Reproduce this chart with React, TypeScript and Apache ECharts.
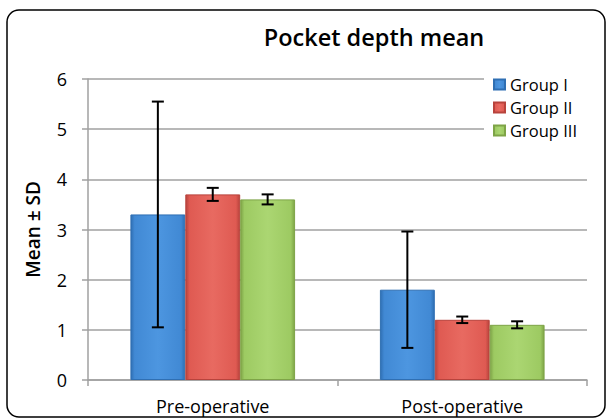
import React, { useEffect, useRef } from "react";
import * as echarts from "echarts";

const categories = ["Pre-operative", "Post-operative"];
const groups = ["Group I", "Group II", "Group III"];
const groupI = [3.3, 1.8];
const groupII = [3.7, 1.2];
const groupIII = [3.6, 1.1];
const sdI = [2.25, 1.16];
const sdII = [0.13, 0.065];
const sdIII = [0.1, 0.07];
const yTicks = [0, 1, 2, 3, 4, 5, 6];

const palette = [
  { dark: "#2f6fb3", mid: "#4189d4", light: "#4d96e0" },
  { dark: "#b8433c", mid: "#df5a52", light: "#e86a61" },
  { dark: "#7ea447", mid: "#9dca62", light: "#abd672" },
];

function grad(p: { dark: string; mid: string; light: string }) {
  return new echarts.graphic.LinearGradient(1, 0, 0, 0, [
    { offset: 0, color: p.dark },
    { offset: 0.07, color: p.mid },
    { offset: 0.5, color: p.light },
    { offset: 0.93, color: p.mid },
    { offset: 1, color: p.dark },
  ]);
}

export default function App() {
  const ref = useRef<HTMLDivElement>(null);
  useEffect(() => {
    if (!ref.current) return;
    const chart = echarts.init(ref.current, null, { renderer: "svg" });
    const values = [groupI, groupII, groupIII];
    const sds = [sdI, sdII, sdIII];
    const font = "'Open Sans', sans-serif";
    const barSeries = groups.map((g, i) => ({
      type: "bar",
      name: g,
      data: values[i],
      barGap: "0%",
      barCategoryGap: "34%",
      itemStyle: {
        color: grad(palette[i]),
        borderColor: palette[i].dark,
        borderWidth: 1,
      },
      z: 2,
    }));
    const errData: number[][] = [];
    for (let gi = 0; gi < 3; gi++) {
      for (let ci = 0; ci < categories.length; ci++) {
        const v = values[gi][ci];
        const s = sds[gi][ci];
        errData.push([ci, gi, v - s, v + s]);
      }
    }
    const errSeries = {
      type: "custom",
      name: "err",
      data: errData,
      z: 5,
      renderItem: (params: any, api: any) => {
        const ci = api.value(0);
        const gi = api.value(1);
        const lo = api.coord([ci, api.value(2)]);
        const hi = api.coord([ci, api.value(3)]);
        const catW = api.size([1, 0])[0];
        const bw = (catW * (1 - 0.34)) / 3;
        const x = lo[0] + (gi - 1) * bw;
        const cap = 6;
        const st = { stroke: "#000", lineWidth: 2 };
        return {
          type: "group",
          children: [
            { type: "line", shape: { x1: x, y1: lo[1], x2: x, y2: hi[1] }, style: st },
            { type: "line", shape: { x1: x - cap, y1: lo[1], x2: x + cap, y2: lo[1] }, style: st },
            { type: "line", shape: { x1: x - cap, y1: hi[1], x2: x + cap, y2: hi[1] }, style: st },
          ],
        };
      },
    };
    chart.setOption({
      animation: false,
      backgroundColor: "#fff",
      textStyle: { fontFamily: font },
      title: {
        text: "Pocket depth mean",
        left: 369,
        top: 20,
        textAlign: "center",
        textStyle: { fontFamily: font, fontSize: 23.5, fontWeight: 600, color: "#000" },
      },
      legend: {
        data: groups,
        orient: "vertical",
        left: 484,
        top: 70,
        padding: [6, 24, 6, 9],
        backgroundColor: "#fff",
        itemWidth: 11,
        itemHeight: 10,
        itemGap: 6,
        icon: "rect",
        textStyle: { fontFamily: font, fontSize: 16.5, color: "#000", lineHeight: 16.5 },
        z: 10,
      },
      grid: { left: 88, right: 20, top: 79, bottom: 39, containLabel: false },
      xAxis: {
        type: "category",
        data: categories,
        axisLine: { lineStyle: { color: "#a0a0a0", width: 1.5 } },
        axisTick: { show: true, length: 6, lineStyle: { color: "#a0a0a0", width: 1.5 } },
        axisLabel: { fontFamily: font, fontSize: 18, color: "#000", margin: 17 },
      },
      yAxis: {
        type: "value",
        min: yTicks[0],
        max: yTicks[yTicks.length - 1],
        interval: 1,
        name: "Mean ± SD",
        nameLocation: "middle",
        nameGap: 46,
        nameTextStyle: { fontFamily: font, fontSize: 19, fontWeight: 600, color: "#000" },
        axisLine: { show: true, lineStyle: { color: "#a0a0a0", width: 1.5 } },
        axisTick: { show: true, length: 6, lineStyle: { color: "#a0a0a0", width: 1.5 } },
        axisLabel: { fontFamily: font, fontSize: 18, color: "#000", margin: 21 },
        splitLine: { lineStyle: { color: "#a0a0a0", width: 1.5 } },
      },
      graphic: [
        {
          type: "rect",
          shape: { x: 7, y: 10, width: 598, height: 407, r: 12 },
          style: { fill: "none", stroke: "#000", lineWidth: 1.5 },
          z: 100,
        },
      ],
      series: [...barSeries, errSeries],
    });
    return () => chart.dispose();
  }, []);
  return (
    <div
      ref={ref}
      style={{ position: "absolute", left: 0, top: 0, width: 607, height: 419 }}
    />
  );
}
